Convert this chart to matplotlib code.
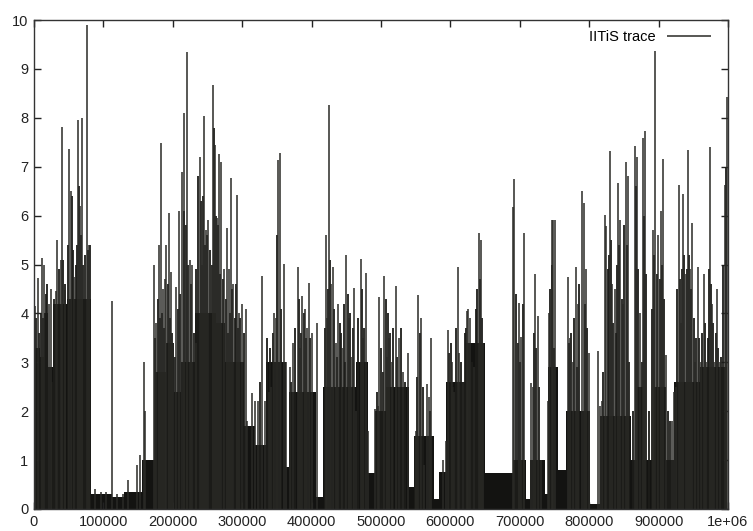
import numpy as np
import matplotlib
matplotlib.use('Agg')
import matplotlib.pyplot as plt

plt.rcParams['font.family'] = ['Liberation Sans', 'DejaVu Sans']

# dense dark band under the spikes: segment start, segment end, level
floor_start = [0, 8000, 14000, 20000, 27000, 47000, 82000, 113000, 130000, 155000,
               174000, 190000, 202000, 212000, 232000, 262000, 275000, 303000, 318000,
               335000, 363000, 368000, 406000, 416000, 464000, 481000, 491000, 507000,
               541000, 548000, 577000, 584000, 594000, 622000, 650000, 690000, 709000,
               714000, 736000, 740000, 755000, 767000, 801000, 815000, 860000, 869000,
               878000, 893000, 910000, 922000, 960000]
floor_end = floor_start[1:] + [998500]
floor_level = [3.3, 3.1, 4.0, 2.9, 4.2, 4.3, 0.3, 0.25, 0.35, 1.0,
               2.8, 3.4, 2.4, 3.0, 4.0, 3.8, 3.0, 1.7, 1.3,
               3.0, 0.86, 2.4, 0.25, 2.5, 3.0, 0.73, 2.0, 2.5,
               0.45, 1.5, 0.2, 0.75, 2.6, 3.4, 0.74, 1.0, 0.2,
               1.0, 0.3, 2.9, 0.8, 2.0, 0.1, 1.9, 1.0, 2.5,
               1.0, 2.5, 1.0, 2.6, 2.9]

# tall impulses
spike_x = [1000, 5750, 11500, 14400, 22000, 24000, 31600, 33600, 38400, 40300,
           45100, 50400, 52800, 57500, 63300, 66200, 69000, 75800, 79600,
           88000, 96000, 104000, 111800, 120000, 128000, 136000, 147700, 152500, 158000, 160000,
           172700, 176500, 179400, 182300, 186100, 189400, 190900, 194700, 197600, 200400,
           205300, 208600, 213900, 216800, 220600, 224500, 228300, 234100, 238800, 241700,
           244600, 248400, 251300, 258000, 260900, 263800, 266700, 270000, 274300, 277700,
           281000, 283500, 286800, 292500, 295400, 300300, 305000, 306900, 314700, 318400,
           322700, 329000, 332400, 338600, 342000, 345800, 348200, 352000, 354500, 359700,
           362600, 369400, 373200, 379900, 382700, 386100, 390900, 393300, 396200, 400000,
           407700, 420100, 422000, 425500, 428300, 430700, 434500, 438400, 444200, 450000,
           453700, 457100, 461400, 464300, 470500, 473800, 478600, 481500, 492000, 495400,
           497800, 504600, 508300, 511200, 516100, 520900, 526600, 531400, 538600, 550600,
           554000, 557800, 562600, 566000, 568900, 572200, 590000, 593800, 597100, 601900,
           605800, 611100, 613000, 617800, 624000, 625900, 628800, 634500, 640800, 644600,
           647500, 690600, 692000, 699300, 702200, 705500, 716100, 718400, 722300, 725600,
           730500, 740000, 742400, 745800, 748200, 751100, 768800, 772200, 776000, 780800,
           783700, 789000, 791800, 795300, 799000, 812500, 815400, 818300, 822100, 824000,
           830200, 833500, 836900, 842200, 845000, 848900, 852800, 855700, 866200, 869500,
           873000, 877700, 880600, 892100, 895000, 899700, 903600, 906500, 911200, 919000,
           922300, 924700, 929500, 932800, 935300, 939100, 942900, 945300, 948600, 952500,
           956800, 960700, 965000, 968800, 974600, 977400, 980300, 983700, 988100, 995700,
           998100]
spike_h = [4.15, 4.72, 5.13, 5.0, 4.2, 4.5, 4.45, 5.5, 5.1, 7.81,
           4.47, 7.36, 6.5, 4.75, 7.95, 6.2, 8.0, 9.9, 5.4,
           0.4, 0.35, 0.35, 4.25, 0.3, 0.3, 0.6, 0.9, 1.1, 3.0, 2.0,
           5.0, 3.8, 5.4, 7.48, 4.5, 4.7, 5.4, 6.05, 4.85, 3.4,
           4.55, 6.1, 6.9, 8.1, 9.34, 5.1, 5.0, 3.4, 7.2, 5.0,
           8.04, 5.7, 5.9, 8.67, 7.45, 5.95, 7.25, 7.1, 4.9, 5.75,
           4.9, 6.77, 4.6, 6.42, 4.0, 4.2, 4.1, 1.8, 2.37, 2.2,
           2.2, 4.77, 2.2, 2.4, 2.5, 4.0, 3.9, 7.14, 7.27, 5.02,
           3.0, 2.9, 3.4, 4.95, 3.3, 4.36, 4.1, 3.7, 4.63, 3.6,
           3.81, 5.6, 3.9, 8.26, 4.6, 4.95, 3.4, 4.2, 3.3, 5.19,
           3.9, 3.1, 4.52, 2.0, 5.11, 3.5, 4.83, 1.6, 2.05, 2.1,
           4.34, 4.77, 3.1, 3.5, 3.0, 4.56, 3.5, 2.8, 3.2, 1.6,
           4.38, 3.9, 0.9, 2.55, 2.3, 3.5, 1.0, 1.4, 3.66, 3.0,
           2.4, 4.95, 3.2, 2.6, 4.04, 4.1, 3.9, 2.9, 5.65, 5.5,
           3.4, 6.18, 6.74, 4.22, 3.52, 5.65, 2.57, 2.5, 4.8, 3.95,
           1.0, 2.2, 4.0, 5.91, 5.9, 5.9, 4.74, 3.5, 3.0, 4.95,
           4.2, 6.5, 6.25, 4.9, 3.2, 3.23, 2.1, 2.2, 6.01, 5.79,
           7.33, 4.6, 4.5, 6.67, 5.9, 4.2, 7.1, 6.8, 7.43, 7.2,
           4.0, 7.58, 7.73, 5.7, 9.37, 5.6, 6.1, 7.15, 3.15, 1.8,
           2.4, 2.5, 6.63, 3.8, 6.45, 4.8, 7.34, 4.9, 5.84, 3.0,
           4.95, 3.0, 4.8, 3.0, 7.41, 4.2, 3.0, 4.5, 3.0, 6.63,
           8.43]

# medium impulses inside the dense clusters
mid_x = [3000, 7000, 9500, 13000, 17000, 19000, 26000, 28500, 35500, 42000,
         44000, 48500, 54500, 56000, 60000, 61500, 64800, 67500, 71000, 73500,
         77500, 81000,
         175000, 178000, 181000, 184500, 188000, 192500, 196000, 199000, 203000, 207000,
         211000, 215500, 218500, 222500, 226500, 230500, 233000, 237000, 240000, 243000,
         246500, 250000, 253500, 256000, 259500, 262500, 265300, 268500, 272000, 276000,
         279500, 283000, 285000, 289000, 291000, 294000, 297500, 302000,
         326000, 336000, 340000, 344000, 350000, 356500, 371000, 376000, 381500, 384500,
         388500, 392000, 398000, 419000, 423500, 427000, 432500, 436500, 440500, 442500,
         446000, 448500, 452000, 455500, 459000, 467500, 472000, 476000,
         494000, 499500, 502500, 506500, 510000, 513500, 518000, 523000, 528500, 534000,
         549000, 552500, 556000, 560000, 570500, 598500, 600500, 603500, 608000, 615500,
         620500, 622500, 627000, 631000, 636500, 639000, 642800, 646000,
         694000, 697500, 700500, 704000, 720000, 724000, 727500, 744000, 747000, 750000,
         770500, 774000, 778500, 782000, 786000, 793500, 797000,
         820000, 826500, 828000, 832000, 835000, 839000, 840500, 843500, 847000, 850500,
         854000, 858000, 863000, 867800, 871000, 875500, 879000, 882000, 886000, 890500,
         893500, 897500, 901500, 905000, 908500, 913000, 917000, 927000, 931000, 934000,
         937000, 941000, 944000, 947000, 950500, 954500, 958500, 962800, 967000, 971000,
         972800, 976000, 979000, 982000, 986000, 990000, 993500, 997000]
mid_h = [3.9, 3.6, 4.0, 3.9, 4.4, 4.6, 2.6, 4.3, 4.9, 5.1,
         4.6, 5.4, 6.4, 5.3, 5.0, 5.4, 6.6, 5.6, 5.0, 5.2,
         5.3, 5.4,
         3.5, 4.3, 3.9, 4.0, 3.7, 4.6, 3.9, 3.6, 3.1, 4.1,
         4.4, 6.1, 5.8, 5.0, 4.6, 3.6, 4.9, 6.8, 6.3, 6.4,
         5.4, 5.6, 5.3, 5.0, 7.8, 6.0, 5.8, 4.8, 4.7, 4.3,
         3.6, 4.0, 4.5, 3.9, 4.6, 3.7, 3.9, 3.6,
         2.6, 3.5, 3.3, 3.6, 5.6, 4.1, 2.6, 3.7, 4.3, 3.6,
         4.0, 3.5, 3.5, 3.7, 4.5, 5.1, 4.1, 3.1, 3.8, 3.6,
         4.2, 3.0, 4.4, 4.0, 3.7, 3.9, 4.5, 3.7,
         2.4, 3.3, 2.8, 4.3, 4.0, 3.6, 3.7, 3.1, 3.7, 2.6,
         1.5, 2.7, 3.6, 2.5, 2.0, 3.2, 3.4, 2.5, 3.7, 3.0,
         3.6, 3.7, 3.4, 3.0, 4.1, 4.5, 4.7, 3.9,
         4.4, 3.4, 3.0, 4.2, 3.6, 3.3, 2.5, 4.5, 5.0, 3.3,
         3.4, 3.6, 3.9, 2.9, 4.6, 4.2, 3.7,
         2.8, 4.9, 5.2, 5.5, 3.8, 3.6, 5.0, 5.4, 4.3, 5.8,
         5.4, 3.0, 2.0, 6.6, 4.9, 3.0, 6.0, 4.8, 2.0, 4.1,
         5.2, 4.8, 4.7, 5.0, 4.3, 2.0, 1.8, 4.5, 4.7, 4.9,
         5.2, 4.9, 5.2, 4.5, 3.9, 3.5, 3.5, 3.6, 3.8, 3.5,
         4.9, 4.6, 3.8, 3.6, 3.3, 3.1, 5.0, 7.0]

xtick_pos = [0, 100000, 200000, 300000, 400000, 500000, 600000, 700000, 800000, 900000, 1000000]
xtick_lab = ['0', '100000', '200000', '300000', '400000', '500000', '600000',
             '700000', '800000', '900000', '1e+06']
ytick_pos = list(range(0, 11))

fig = plt.figure(figsize=(7.53, 5.31), dpi=100)
ax = fig.add_axes([34 / 753, 22 / 531, 694 / 753, 489 / 531])

widths = [e - s for s, e in zip(floor_start, floor_end)]
ax.bar(floor_start, floor_level, width=widths, align='edge', color='#131311', linewidth=0)
ax.vlines(mid_x, 0, mid_h, color='#1c1c19', linewidth=1.3)
ax.vlines(spike_x, 0, spike_h, color='#2a2a26', linewidth=1.1, label='IITiS trace')

ax.set_xlim(0, 1000000)
ax.set_ylim(0, 10)
ax.set_xticks(xtick_pos)
ax.set_xticklabels(xtick_lab)
ax.set_yticks(ytick_pos)
ax.tick_params(direction='in', length=5, width=1, top=True, right=True,
               labelsize=10.5, colors='#222222', pad=4)
for s in ax.spines.values():
    s.set_linewidth(1.0)
    s.set_color('#333333')

leg = ax.legend(loc='upper right', frameon=False, markerfirst=False,
                handlelength=3.0, fontsize=10.5, borderaxespad=0.3,
                bbox_to_anchor=(0.99, 1.0))

fig.savefig('out.png', dpi=100)
